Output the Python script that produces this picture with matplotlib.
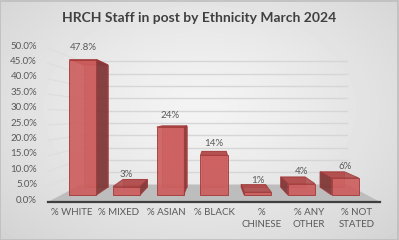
import numpy as np
import matplotlib
matplotlib.use('Agg')
import matplotlib.pyplot as plt
from matplotlib.patches import Polygon, Rectangle

# ---------------- data ----------------
categories = ['% WHITE', '% MIXED', '% ASIAN', '% BLACK', '%\nCHINESE', '% ANY\nOTHER', '% NOT\nSTATED']
values = [47.8, 3, 24, 14, 1, 4, 6]
value_labels = ['47.8%', '3%', '24%', '14%', '1%', '4%', '6%']
yticks = [0, 5, 10, 15, 20, 25, 30, 35, 40, 45, 50]
ytick_labels = ['0.0%', '5.0%', '10.0%', '15.0%', '20.0%', '25.0%', '30.0%', '35.0%', '40.0%', '45.0%', '50.0%']
title = 'HRCH Staff in post by Ethnicity March 2024'

W, H, DPI = 399, 240, 100
FONT = ['Lato', 'DejaVu Sans']
plt.rcParams['font.family'] = FONT

fig = plt.figure(figsize=(W / DPI, H / DPI), dpi=DPI)

# ---------------- background (radial gray gradient) ----------------
bg = fig.add_axes([0, 0, 1, 1])
bg.set_axis_off()
yy, xx = np.mgrid[0:H, 0:W]
rr = np.sqrt(((xx - W * 0.5) / (W * 0.5)) ** 2 + ((yy - H * 0.45) / (H * 0.55)) ** 2)
shade = 0.955 - 0.13 * np.clip(rr / 1.41, 0, 1) ** 1.3
bg.imshow(shade, cmap='gray', vmin=0, vmax=1, extent=[0, 1, 0, 1], aspect='auto', interpolation='bilinear')
bg.set_xlim(0, 1)
bg.set_ylim(0, 1)
bg.add_patch(Rectangle((0.001, 0.002), 0.997, 0.995, fill=False, ec='#BEBEBE', lw=1.2,
                       transform=bg.transAxes))

# ---------------- main axes (front plane in data units) ----------------
ax = fig.add_axes([47.75 / W, 38 / H, 332.5 / W, 154 / H])
ax.set_xlim(-0.5, len(categories) - 0.5)
ax.set_ylim(0, 50)
ax.set_axis_off()
ax.patch.set_alpha(0)

n = len(categories)
VX = (n - 1) / 2.0   # horizontal vanishing point (category units)
VY = 28.4            # vertical vanishing point (percent units)
R_WALL, R_FRONT, R_BACK = 0.80, 0.92, 0.83
HW = 0.31


def P(x, v, r):
    return (VX + r * (x - VX), VY + r * (v - VY))


x0, x1 = -0.5, n - 0.5
# floor
ax.add_patch(Polygon([P(x0, 0, 1), P(x1, 0, 1), P(x1, 0, R_WALL), P(x0, 0, R_WALL)],
                     closed=True, fc='#BDBDBD', ec='none', zorder=1, clip_on=False))
# gridlines on left wall and back wall
for v in yticks[1:]:
    a, b, c = P(x0, v, 1), P(x0, v, R_WALL), P(x1, v, R_WALL)
    ax.plot([a[0], b[0]], [a[1], b[1]], color='#DEDEDE', lw=0.9, zorder=1, clip_on=False)
    ax.plot([b[0], c[0]], [b[1], c[1]], color='#D6D6D6', lw=1.0, zorder=1, clip_on=False)
# front floor edge
a, b = P(x0, 0, 1), P(x1, 0, 1)
ax.plot([a[0], b[0]], [a[1], b[1]], color='#3F3F3F', lw=1.6, zorder=2, clip_on=False)

# y tick labels (front-left)
for v, lab in zip(yticks, ytick_labels):
    ax.annotate(lab, xy=(x0, v), xytext=(-7.7, 1.4), textcoords='offset points',
                ha='right', va='center', fontsize=7, color='#595959', annotation_clip=False)

# bars
EDGE = '#A33B3B'
for i, v in enumerate(values):
    BLf, BRf, TRf, TLf = P(i - HW, 0, R_FRONT), P(i + HW, 0, R_FRONT), P(i + HW, v, R_FRONT), P(i - HW, v, R_FRONT)
    BLb, BRb, TRb, TLb = P(i - HW, 0, R_BACK), P(i + HW, 0, R_BACK), P(i + HW, v, R_BACK), P(i - HW, v, R_BACK)
    z = 3
    ax.add_patch(Polygon([BLb, BRb, TRb, TLb], closed=True, fc='#C25050', alpha=0.5,
                         ec=EDGE, lw=0.7, zorder=z, clip_on=False))
    ax.add_patch(Polygon([TLf, TRf, TRb, TLb], closed=True, fc='#AE4545', alpha=0.85,
                         ec=EDGE, lw=0.7, zorder=z + 0.1, clip_on=False))
    if i < VX - 0.01:
        side = [BRf, BRb, TRb, TRf]
    elif i > VX + 0.01:
        side = [BLf, BLb, TLb, TLf]
    else:
        side = None
    if side is not None:
        ax.add_patch(Polygon(side, closed=True, fc='#7D3737', alpha=0.9,
                             ec=EDGE, lw=0.7, zorder=z + 0.2, clip_on=False))
    ax.add_patch(Polygon([BLf, BRf, TRf, TLf], closed=True, fc='#CD5C5C', alpha=0.9,
                         ec=EDGE, lw=0.7, zorder=z + 0.3, clip_on=False))
    tx, ty = P(i, v, R_FRONT)
    ax.annotate(value_labels[i], xy=(tx, ty), xytext=(0, 8.6), textcoords='offset points',
                ha='center', va='center', fontsize=7, color='#595959', zorder=6,
                annotation_clip=False)

# category labels
for i, lab in enumerate(categories):
    ax.annotate(lab, xy=(i, 0), xytext=(0, -4.6), textcoords='offset points',
                ha='center', va='top', fontsize=7, color='#595959', linespacing=1.35,
                annotation_clip=False)

fig.text(0.5, 1 - 18.5 / H, title, ha='center', va='center', fontsize=10,
         fontweight='bold', color='#404040')

fig.savefig('out.png', dpi=DPI)
